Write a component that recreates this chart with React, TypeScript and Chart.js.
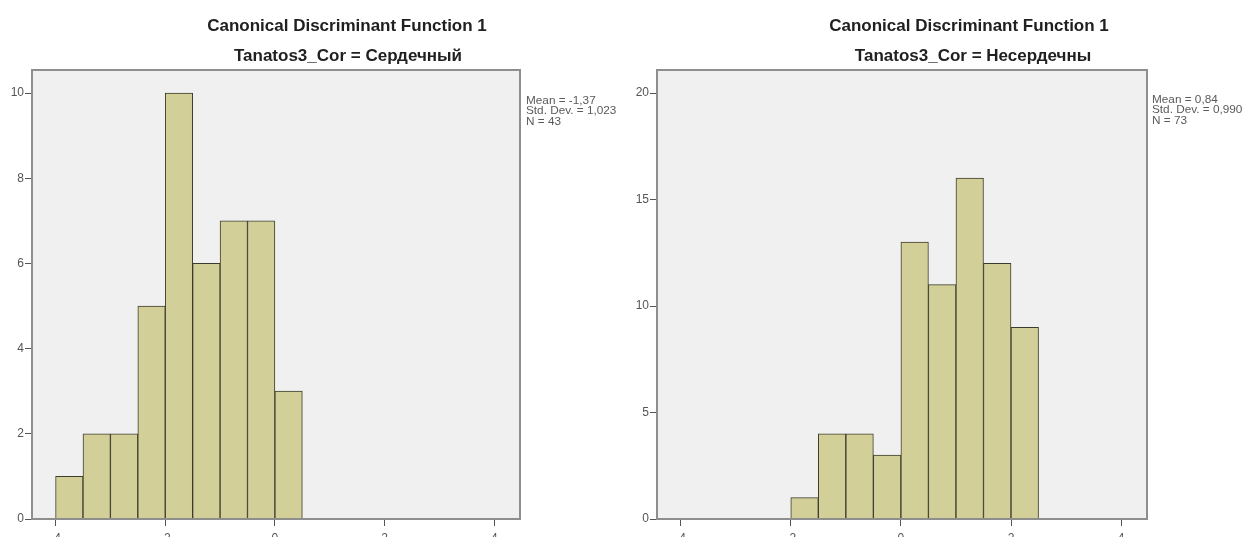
import { useEffect, useRef } from 'react';
import { Chart, registerables } from 'chart.js';

Chart.register(...registerables);

// ---- data ----
const mainTitle = 'Canonical Discriminant Function 1';
const leftSubtitle = 'Tanatos3_Cor = Сердечный';
const rightSubtitle = 'Tanatos3_Cor = Несердечны';

const leftBinCenters = [-3.75, -3.25, -2.75, -2.25, -1.75, -1.25, -0.75, -0.25, 0.25];
const leftCounts = [1, 2, 2, 5, 10, 6, 7, 7, 3];
const leftStats = ['Mean = -1,37', 'Std. Dev. = 1,023', 'N = 43'];

const rightBinCenters = [-1.75, -1.25, -0.75, -0.25, 0.25, 0.75, 1.25, 1.75, 2.25];
const rightCounts = [1, 4, 4, 3, 13, 11, 16, 12, 9];
const rightStats = ['Mean = 0,84', 'Std. Dev. = 0,990', 'N = 73'];

const xTickValues = [-4, -2, 0, 2, 4];
const leftYTicks = [0, 2, 4, 6, 8, 10];
const rightYTicks = [0, 5, 10, 15, 20];

// ---- styling ----
const FONT = "'Liberation Sans', Arial, sans-serif";
const BAR_FILL = '#d3cf99';
const BAR_EDGE = '#3c3c2c';
const PLOT_BG = '#f0f0f0';
const FRAME = '#8e8e8e';
const TICK = '#555555';

interface PanelOpts {
  title: string;
  subtitle: string;
  titleX: number;
  subtitleX: number;
  stats: string[];
  statsX: number;
  statsY: number[];
}

const decor = {
  id: 'panelDecor',
  beforeDraw(chart: any) {
    const { ctx, chartArea: ca } = chart;
    ctx.save();
    ctx.fillStyle = PLOT_BG;
    ctx.fillRect(ca.left, ca.top, ca.right - ca.left, ca.bottom - ca.top);
    ctx.restore();
  },
  afterDatasetsDraw(chart: any) {
    const { ctx, chartArea: ca } = chart;
    ctx.save();
    ctx.strokeStyle = FRAME;
    ctx.lineWidth = 2;
    ctx.strokeRect(ca.left, ca.top, ca.right - ca.left, ca.bottom - ca.top);
    ctx.restore();
  },
  afterDraw(chart: any, _a: any, o: PanelOpts) {
    const { ctx } = chart;
    ctx.save();
    ctx.fillStyle = '#202020';
    ctx.textAlign = 'center';
    ctx.textBaseline = 'middle';
    ctx.font = `bold 17px ${FONT}`;
    ctx.fillText(o.title, o.titleX, 26);
    ctx.fillText(o.subtitle, o.subtitleX, 56);
    ctx.restore();

    ctx.save();
    ctx.fillStyle = '#5a5a5a';
    ctx.textAlign = 'left';
    ctx.textBaseline = 'middle';
    ctx.font = `11px ${FONT}`;
    ctx.translate(o.statsX, 0);
    ctx.scale(1.07, 1);
    o.stats.forEach((s, i) => ctx.fillText(s, 0, o.statsY[i]));
    ctx.restore();
  },
};

function makeConfig(
  centers: number[],
  counts: number[],
  yTicks: number[],
  yMax: number,
  yAxisWidth: number,
  padRight: number,
  panel: PanelOpts
): any {
  return {
    type: 'bar',
    data: {
      datasets: [
        {
          data: centers.map((c, i) => ({ x: c, y: counts[i] })),
          backgroundColor: BAR_FILL,
          borderColor: BAR_EDGE,
          borderWidth: 1,
          barPercentage: 1,
          categoryPercentage: 1,
        },
      ],
    },
    options: {
      responsive: false,
      animation: false,
      layout: { padding: { top: 70, right: padRight, bottom: 0, left: 0 } },
      plugins: {
        legend: { display: false },
        tooltip: { enabled: false },
        panelDecor: panel,
      },
      scales: {
        x: {
          type: 'linear',
          offset: false,
          min: -4.43,
          max: 4.47,
          afterFit: (s: any) => {
            s.height = 18;
          },
          afterBuildTicks: (s: any) => {
            s.ticks = xTickValues.map((v) => ({ value: v }));
          },
          grid: {
            display: true,
            offset: false,
            drawOnChartArea: false,
            drawTicks: true,
            tickLength: 7,
            color: TICK,
            lineWidth: 1,
          },
          border: { display: false },
          ticks: {
            padding: 5,
            color: '#555555',
            font: { family: FONT, size: 12 },
            maxRotation: 0,
            autoSkip: false,
            callback: (v: any) => String(v),
          },
        },
        y: {
          type: 'linear',
          min: 0,
          max: yMax,
          afterFit: (s: any) => {
            s.width = yAxisWidth;
          },
          afterBuildTicks: (s: any) => {
            s.ticks = yTicks.map((v) => ({ value: v }));
          },
          grid: {
            display: true,
            drawOnChartArea: false,
            drawTicks: true,
            tickLength: 7,
            color: TICK,
            lineWidth: 1,
          },
          border: { display: false },
          ticks: {
            padding: 1,
            color: '#555555',
            font: { family: FONT, size: 12 },
            autoSkip: false,
            callback: (v: any) => String(v),
          },
        },
      },
    },
    plugins: [decor],
  };
}

export default function App() {
  const leftRef = useRef<HTMLCanvasElement>(null);
  const rightRef = useRef<HTMLCanvasElement>(null);

  useEffect(() => {
    const c1 = new Chart(
      leftRef.current as HTMLCanvasElement,
      makeConfig(leftBinCenters, leftCounts, leftYTicks, 10.54, 32, 100, {
        title: mainTitle,
        subtitle: leftSubtitle,
        titleX: 347,
        subtitleX: 348,
        stats: leftStats,
        statsX: 526,
        statsY: [100.5, 111, 121.5],
      })
    );
    const c2 = new Chart(
      rightRef.current as HTMLCanvasElement,
      makeConfig(rightBinCenters, rightCounts, rightYTicks, 21.08, 37, 96, {
        title: mainTitle,
        subtitle: rightSubtitle,
        titleX: 349,
        subtitleX: 353,
        stats: rightStats,
        statsX: 532,
        statsY: [99.5, 110, 120.5],
      })
    );
    return () => {
      c1.destroy();
      c2.destroy();
    };
  }, []);

  return (
    <div
      style={{
        position: 'absolute',
        left: 0,
        top: 0,
        width: 1243,
        height: 537,
        background: '#ffffff',
        overflow: 'hidden',
      }}
    >
      <canvas
        ref={leftRef}
        width={620}
        height={537}
        style={{ position: 'absolute', left: 0, top: 0 }}
      />
      <canvas
        ref={rightRef}
        width={623}
        height={537}
        style={{ position: 'absolute', left: 620, top: 0 }}
      />
    </div>
  );
}
